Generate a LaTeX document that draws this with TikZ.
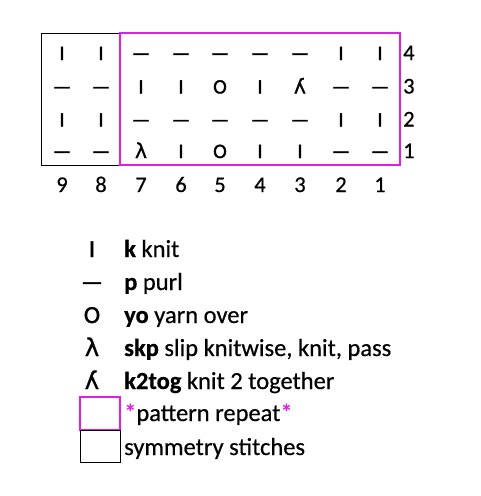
\documentclass[tikz,border=0pt]{standalone}
\usepackage{fontspec}
\setmainfont{Carlito}[FakeBold=0.5]
\newfontfamily\symf{Carlito}[FakeBold=1.6]
\newfontfamily\lamf{DejaVu Sans}[FakeBold=0.8]
\usepackage{graphicx}
\definecolor{mag}{RGB}{228,28,228}
\newcommand\sK{{\symf I}}
\newcommand\sP{{\symf —}}
\newcommand\sO{{\symf O}}
\newcommand\sL{{\lamf λ}}
\newcommand\sR{\reflectbox{\lamf λ}}
\begin{document}
\begin{tikzpicture}[x=1pt,y=-1pt,
  sym/.style={anchor=base,inner sep=0pt,font=\fontsize{20.5}{24}\selectfont},
  lsym/.style={anchor=base,inner sep=0pt,font=\fontsize{24.5}{28}\selectfont},
  num/.style={anchor=base,inner sep=0pt,font=\fontsize{22.5}{26}\selectfont},
  leg/.style={anchor=base west,inner sep=0pt,font=\fontsize{24.5}{28}\selectfont},
  repbox/.style={draw=mag,line width=2.8pt},
  symbox/.style={draw=black,line width=0.9pt}]
\useasboundingbox (0,0) rectangle (481,496);
% chart boxes
\draw[symbox] (41,33) rectangle (120,165);
\draw[repbox] (120,33) rectangle (400,165);
% chart symbols
\foreach \r/\y/\row in {4/60/{\sK,\sK,\sP,\sP,\sP,\sP,\sP,\sK,\sK},
                        3/93.5/{\sP,\sP,\sK,\sK,\sO,\sK,\sR,\sP,\sP},
                        2/126.5/{\sK,\sK,\sP,\sP,\sP,\sP,\sP,\sK,\sK},
                        1/158/{\sP,\sP,\sL,\sK,\sO,\sK,\sK,\sP,\sP}}{
  \foreach \s [count=\c] in \row {
    \pgfmathsetmacro{\xx}{{62,101,141,181,220,260,300,341,380}[\c-1]}
    \node[sym] (s-\r-\c) at (\xx,\y) {\s};
  }
  \node[num,anchor=base west] (row-\r) at (403,\y) {\r};
}
% column numbers
\foreach \n/\x in {9/62,8/101,7/141,6/181,5/220,4/260,3/300,2/341,1/380}
  \node[num] (col-\n) at (\x,192) {\n};
% legend
\node[lsym] (l-k) at (92,257) {\sK};
\node[leg] (t-k) at (124,257) {\textbf{k} knit};
\node[lsym] (l-p) at (92,290) {\sP};
\node[leg] (t-p) at (124,290) {\textbf{p} purl};
\node[lsym] (l-o) at (92,323) {\sO};
\node[leg] (t-o) at (124,323) {\textbf{yo} yarn over};
\node[lsym] (l-l) at (92,356) {\sL};
\node[leg] (t-l) at (124,356) {\textbf{skp} slip knitwise, knit, pass};
\node[lsym] (l-r) at (92,389) {\sR};
\node[leg] (t-r) at (124,389) {\textbf{k2tog} knit 2 together};
\draw[repbox] (80,397) rectangle (120,430);
\node[leg] (t-rep) at (124,421) {\textcolor{mag}{*}pattern repeat\textcolor{mag}{*}};
\draw[symbox] (80,430) rectangle (120,462);
\node[leg] (t-sym) at (124,455) {symmetry stitches};
\end{tikzpicture}
\end{document}
